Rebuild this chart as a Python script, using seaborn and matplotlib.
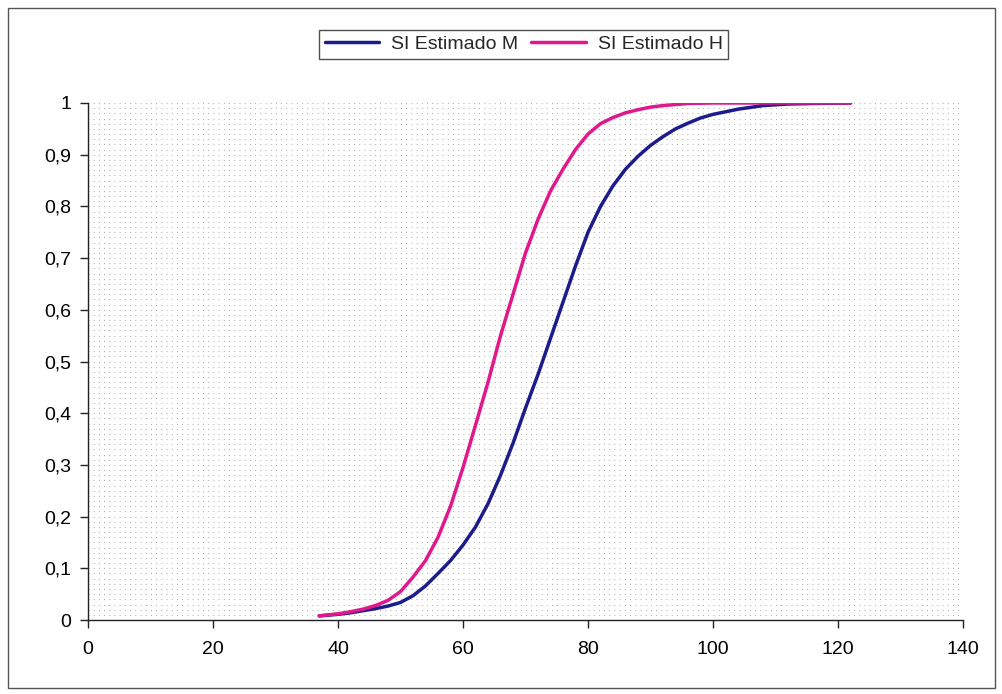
import matplotlib
matplotlib.use("Agg")
import matplotlib.pyplot as plt
from matplotlib.patches import Rectangle
from matplotlib.ticker import MultipleLocator, FuncFormatter
import pandas as pd
import seaborn as sns

# Survival index estimates by sex (M and H), sampled along x
x_m = [37, 40, 42, 44, 46, 48, 50, 52, 54, 56, 58, 60, 62, 64, 66, 68, 70,
       72, 74, 76, 78, 80, 82, 84, 86, 88, 90, 92, 94, 96, 98, 100, 104,
       108, 112, 116, 122]
si_m = [0.008, 0.011, 0.014, 0.018, 0.022, 0.027, 0.034, 0.047, 0.066, 0.09,
        0.115, 0.145, 0.18, 0.225, 0.28, 0.342, 0.41, 0.475, 0.545, 0.615,
        0.685, 0.75, 0.80, 0.84, 0.872, 0.897, 0.918, 0.935, 0.95, 0.961,
        0.971, 0.978, 0.988, 0.995, 0.998, 0.999, 1.0]
x_h = [37, 40, 42, 44, 46, 48, 50, 52, 54, 56, 58, 60, 62, 64, 66, 68, 70,
       72, 74, 76, 78, 80, 82, 84, 86, 88, 90, 92, 94, 96, 100, 105, 110,
       116, 122]
si_h = [0.008, 0.012, 0.016, 0.021, 0.028, 0.038, 0.055, 0.083, 0.115,
        0.16, 0.22, 0.295, 0.377, 0.46, 0.55, 0.63, 0.71, 0.775, 0.83,
        0.872, 0.91, 0.94, 0.96, 0.972, 0.981, 0.987, 0.992, 0.995, 0.997,
        0.999, 1.0, 1.0, 1.0, 1.0, 1.0]
series_names = ["SI Estimado M", "SI Estimado H"]
series_colors = ["#1c1c8c", "#e0188c"]

df = pd.concat([
    pd.DataFrame({"x": x_m, "y": si_m, "serie": series_names[0]}),
    pd.DataFrame({"x": x_h, "y": si_h, "serie": series_names[1]}),
])

sns.set_style("white")
plt.rcParams["font.family"] = ["Liberation Sans", "DejaVu Sans"]

fig = plt.figure(figsize=(10.03, 6.94), dpi=100)
ax = fig.add_axes([0.0877, 0.1066, 0.8725, 0.745])

sns.lineplot(data=df, x="x", y="y", hue="serie", hue_order=series_names,
             palette=series_colors, linewidth=2.5, ax=ax, legend=True,
             sort=True)

ax.set_xlim(0, 140)
ax.set_ylim(0, 1)
ax.xaxis.set_major_locator(MultipleLocator(20))
ax.yaxis.set_major_locator(MultipleLocator(0.1))
ax.yaxis.set_minor_locator(MultipleLocator(0.01))
ax.yaxis.set_major_formatter(
    FuncFormatter(lambda v, p: ("%g" % round(v, 2)).replace(".", ",")))
ax.set_xlabel("")
ax.set_ylabel("")

# dotted background mesh
ax.grid(False)
ax.yaxis.grid(True, which="both", color="#8c8c8c",
              linestyle=(0, (1, 5.25)), linewidth=0.6)
ax.set_axisbelow(True)

for side in ["top", "right"]:
    ax.spines[side].set_visible(False)
for side in ["left", "bottom"]:
    ax.spines[side].set_color("#222222")
    ax.spines[side].set_linewidth(1.0)

ax.tick_params(axis="both", which="major", direction="out", length=6,
               width=1, color="#222222", labelsize=14, labelcolor="black",
               left=True, bottom=True)
ax.tick_params(axis="x", pad=9)
ax.tick_params(axis="y", pad=6)
ax.tick_params(which="minor", length=0)

handles, labels = ax.get_legend_handles_labels()
ax.legend_.remove()
leg = fig.legend(handles, labels, loc="center", bbox_to_anchor=(0.522, 0.936),
                 ncol=2, frameon=True, fancybox=False, fontsize=14,
                 handlelength=2.8, columnspacing=0.7, handletextpad=0.6,
                 borderpad=0.3)
leg.get_frame().set_edgecolor("#222222")
leg.get_frame().set_linewidth(1.0)

# chart border
fig.patches.append(Rectangle((0.008, 0.008), 0.984, 0.981,
                             transform=fig.transFigure, fill=False,
                             edgecolor="#555555", linewidth=1.0))

fig.savefig("out.png", dpi=100)
